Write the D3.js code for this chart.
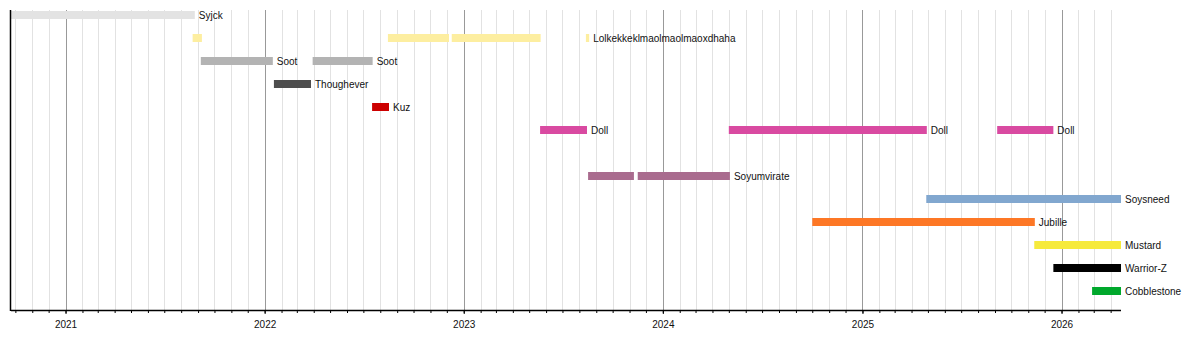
<!DOCTYPE html>
<html><head><meta charset="utf-8">
<script src="https://cdn.jsdelivr.net/npm/d3@7"></script>
<style>
body{margin:0;background:#fff;}
svg text{font-family:"Liberation Sans",Arial,sans-serif;}
</style></head>
<body><svg id="chart" width="1200" height="360"></svg>
<script>
const categories = ["Syjck","Lolkekkeklmaolmaolmaoxdhaha","Soot","Thoughever","Kuz","Doll","","Soyumvirate","Soysneed","Jubille","Mustard","Warrior-Z","Cobblestone"];
const colors = ["#e3e3e3","#fdeea0","#b3b3b3","#4d4d4d","#cc0000","#d94aa1","#999","#a96b8e","#81a7cf","#fd7725","#f6ea3c","#000000","#00a82c"];
// segments: [rowIndex, start, end, showLabel]
const segments = [
  [0,"2020-09-23","2021-08-26",true],
  [1,"2021-08-22","2021-09-08",false],
  [1,"2022-08-15","2022-12-05",false],
  [1,"2022-12-10","2023-05-22",false],
  [1,"2023-08-13","2023-08-19",true],
  [2,"2021-09-06","2022-01-16",true],
  [2,"2022-03-30","2022-07-18",true],
  [3,"2022-01-18","2022-03-27",true],
  [4,"2022-07-17","2022-08-17",true],
  [5,"2023-05-21","2023-08-15",true],
  [5,"2024-05-01","2025-04-29",true],
  [5,"2025-09-05","2025-12-17",true],
  [7,"2023-08-17","2023-11-09",false],
  [7,"2023-11-16","2024-05-03",true],
  [8,"2025-04-28","2026-04-20",true],
  [9,"2024-10-01","2025-11-13",true],
  [10,"2025-11-12","2026-04-20",true],
  [11,"2025-12-17","2026-04-20",true],
  [12,"2026-02-26","2026-04-20",true]
];
const yearTicks = ["2021","2022","2023","2024","2025","2026"];

(function(){
const parse = d3.utcParse("%Y-%m-%d");
const data = segments.map(s => ({row:s[0], start:parse(s[1]), end:parse(s[2]), label:s[3]}));
const svg = d3.select("#chart");
const pTop = 10, pBottom = 310, pLeft = 11, pRight = 1121;
const x = d3.scaleUtc()
  .domain([d3.min(data,d=>d.start), d3.max(data,d=>d.end)])
  .range([pLeft,pRight]);
const y = d3.scalePoint().domain(d3.range(categories.length)).range([15,291]);

const months = d3.utcMonth.range(d3.utcMonth.ceil(x.domain()[0]), x.domain()[1]);
const years = yearTicks.map(t => d3.utcParse("%Y")(t));

svg.append("g").selectAll("line").data(months.filter(m=>m.getUTCMonth()!==0)).join("line")
  .attr("x1",d=>Math.round(x(d))+0.5).attr("x2",d=>Math.round(x(d))+0.5)
  .attr("y1",pTop).attr("y2",pBottom).attr("stroke","#e2e2e2").attr("stroke-width",1);
svg.append("g").selectAll("line").data(years).join("line")
  .attr("x1",d=>Math.round(x(d))+0.5).attr("x2",d=>Math.round(x(d))+0.5)
  .attr("y1",pTop).attr("y2",pBottom).attr("stroke","#999").attr("stroke-width",1);

svg.append("g").selectAll("rect").data(data).join("rect")
  .attr("x",d=>x(d.start)).attr("width",d=>Math.max(1,x(d.end)-x(d.start)))
  .attr("y",d=>y(d.row)-4).attr("height",8)
  .attr("fill",d=>colors[d.row]);
svg.append("g").selectAll("text").data(data.filter(d=>d.label)).join("text")
  .attr("x",d=>x(d.end)+4).attr("y",d=>y(d.row)).attr("dy","0.35em")
  .attr("font-size",10).attr("fill","#111")
  .text(d=>categories[d.row]);

const axisG = svg.append("g").attr("transform",`translate(0,${pBottom})`);
axisG.call(d3.axisBottom(x).tickValues(months).tickSize(3).tickFormat(""));
axisG.select(".domain").remove();
const yearAxis = svg.append("g").attr("transform",`translate(0,${pBottom})`)
  .call(d3.axisBottom(x).tickValues(years).tickSize(4).tickPadding(7).tickFormat(d3.utcFormat("%Y")));
yearAxis.select(".domain").remove();
yearAxis.selectAll("text").attr("font-size",10).attr("font-family","Liberation Sans, Arial, sans-serif").attr("fill","#111");
axisG.selectAll("line").attr("stroke","#000");
yearAxis.selectAll("line").attr("stroke","#000");
svg.append("line").attr("x1",pLeft).attr("x2",pRight).attr("y1",pBottom+0.5).attr("y2",pBottom+0.5).attr("stroke","#000").attr("stroke-width",1.5);
svg.append("line").attr("x1",pLeft-0.5).attr("x2",pLeft-0.5).attr("y1",pTop).attr("y2",pBottom+1).attr("stroke","#000").attr("stroke-width",1.5);
})();
</script></body></html>
